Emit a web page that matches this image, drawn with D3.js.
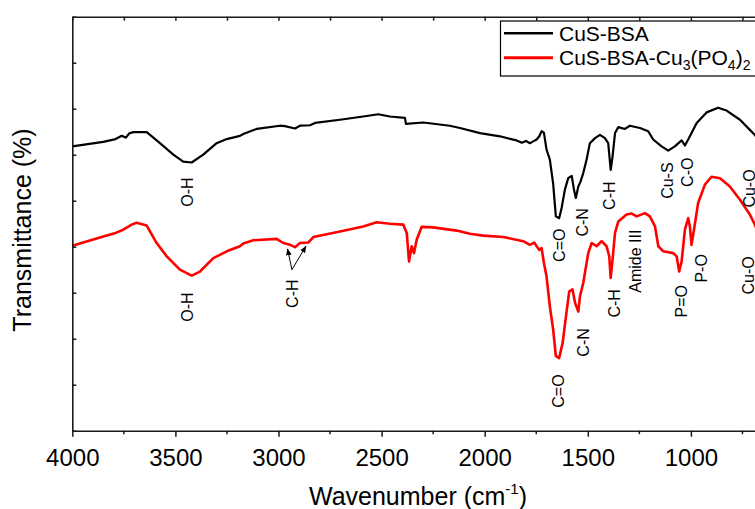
<!DOCTYPE html>
<html>
<head>
<meta charset="utf-8">
<script src="https://cdn.jsdelivr.net/npm/d3@7"></script>
<style>
html,body{margin:0;padding:0;background:#fff;overflow:hidden;}
svg{display:block;font-family:"Liberation Sans",Arial,Helvetica,sans-serif;}
</style>
</head>
<body>
<svg id="chart" width="755" height="509"></svg>
<script>
// ---- data (wavenumber cm^-1, transmittance in arbitrary offset units) ----
const seriesNames = ["CuS-BSA", "CuS-BSA-Cu3(PO4)2"];
const xTicks = [4000, 3500, 3000, 2500, 2000, 1500, 1000, 500];

const cusBsaWn = [4000,3850,3790,3760,3740,3725,3704,3639,3575,3510,3462,3421,3365,3300,3251,3187,3171,3106,2993,2969,2920,2896,2847,2823,2702,2589,2516,2460,2387,2382,2298,2169,2120,2023,1926,1845,1820,1800,1781,1765,1748,1735,1724,1713,1700,1684,1668,1655,1639,1627,1611,1595,1578,1567,1558,1546,1535,1522,1506,1490,1465,1441,1417,1401,1389,1380,1368,1352,1320,1296,1247,1207,1183,1142,1110,1078,1045,1029,1013,972,924,868,827,762,714,690,650];
const cusBsaT  = [61.8,62.8,63.4,64.1,63.7,64.6,64.9,64.9,62.5,60.0,58.5,58.3,60.0,62.5,63.4,64.1,64.5,65.6,66.3,66.2,65.7,66.3,66.4,66.9,67.6,68.3,68.8,68.3,68.0,66.7,67.0,66.3,65.8,64.7,64.0,63.1,62.6,63.0,62.5,62.9,63.3,64.0,65.1,64.8,61.1,58.9,53.7,46.6,46.2,48.4,52.4,54.9,55.4,52.4,50.6,53.1,54.2,56.0,58.9,62.5,63.6,64.3,63.6,62.5,56.7,59.6,64.7,66.0,65.6,66.3,65.8,65.1,63.3,61.8,60.9,61.8,63.1,62.0,63.3,66.9,69.2,70.2,69.6,67.6,65.4,64.3,62.0];

const cusBsaCpWn = [4000,3850,3790,3753,3712,3688,3639,3591,3542,3478,3421,3381,3316,3251,3187,3171,3122,3009,2977,2944,2920,2896,2856,2831,2702,2589,2524,2460,2395,2378,2367,2354,2343,2330,2306,2250,2136,2072,2007,1910,1813,1781,1760,1748,1735,1724,1713,1700,1684,1668,1655,1639,1622,1606,1590,1574,1562,1546,1538,1522,1498,1481,1457,1433,1409,1396,1389,1380,1368,1352,1312,1287,1263,1223,1199,1174,1158,1134,1086,1069,1057,1045,1029,1013,1005,997,985,965,932,900,859,811,762,714,690,650];
const cusBsaCpT  = [40.2,42.2,43.0,43.7,44.8,45.2,44.6,40.8,37.9,35.0,33.7,34.6,37.5,39.0,40.1,40.7,41.4,41.7,40.8,40.4,39.9,40.8,40.9,42.1,43.3,44.4,45.3,45.0,44.8,43.0,36.8,40.1,38.6,41.5,44.3,44.2,43.5,42.8,42.4,42.1,41.2,40.4,40.9,40.1,39.3,39.7,36.5,33.5,27.0,22.0,16.2,15.8,19.1,24.8,30.3,30.7,27.8,25.9,29.2,32.1,38.6,40.8,40.1,41.2,40.1,37.9,33.2,37.2,43.0,45.5,47.0,47.2,46.6,47.3,46.6,44.4,40.1,39.0,38.6,37.9,34.6,36.8,43.7,46.2,44.4,40.4,43.7,49.5,53.5,55.2,54.9,53.1,50.2,47.0,44.8,40.0];

// peak assignments: [label, wavenumber, transmittance at label start]
const blackLabels = [["O-H",3444,48.7],["C=O",1640,36.7],["C-N",1528,42.2],["C-H",1393,48.0],["Cu-S",1116,50.4],["C-O",1019,53.0],["Cu-O",714,48.5]];
const redLabels   = [["O-H",3444,23.7],["C-H",2935,26.7],["C=O",1645,5.0],["C-N",1523,16.1],["C-H",1373,24.6],["Amide III",1267,30.0],["P=O",1048,24.6],["P-O",947,32.2],["Cu-O",719,29.6]];
// arrows for the red C-H doublet: [fromWn, fromT, toWn, toT]
const chArrows = [[2935,35.0,2956,39.5],[2935,35.0,2867,40.1]];

(function () {
// ---- layout ----
const svg = d3.select("#chart");
const leftX = 72.3, topY = 16.7, bottomY = 430.7;
const x = d3.scaleLinear().domain([4000, 400]).range([leftX, leftX + 3600 * 0.2062]);
const y = d3.scaleLinear().domain([0, 90]).range([bottomY, topY]);
const axisColor = "#1a1a1a";

svg.append("defs").append("marker").attr("id","arr").attr("viewBox","0 0 10 10")
  .attr("refX",9).attr("refY",5).attr("markerWidth",7).attr("markerHeight",7).attr("orient","auto")
  .append("path").attr("d","M0,1 L10,5 L0,9 Z").attr("fill","#000");

// curves
const line = d3.line().x(d => x(d[0])).y(d => y(d[1]));
const blackData = cusBsaWn.map((w,i) => [w, cusBsaT[i]]);
const redData = cusBsaCpWn.map((w,i) => [w, cusBsaCpT[i]]);
svg.append("path").datum(blackData).attr("d", line).attr("fill","none").attr("stroke","#000").attr("stroke-width",2.2).attr("stroke-linejoin","round");
svg.append("path").datum(redData).attr("d", line).attr("fill","none").attr("stroke","#ff0000").attr("stroke-width",2.6).attr("stroke-linejoin","round");

// axes
const bottomAxis = d3.axisBottom(x).tickValues(xTicks).tickSizeInner(6).tickSizeOuter(0).tickPadding(12).tickFormat(d3.format("d"));
const gB = svg.append("g").attr("transform",`translate(0,${bottomY})`).call(bottomAxis);
gB.selectAll("text").attr("font-size",24).attr("fill","#000").attr("font-family","'Liberation Sans',Arial,sans-serif");
const minorX = d3.range(3750, 400, -500);
gB.selectAll(".minor").data(minorX).enter().append("line").attr("class","minor")
  .attr("x1",d=>x(d)).attr("x2",d=>x(d)).attr("y1",0).attr("y2",3.5).attr("stroke",axisColor).attr("stroke-width",1.5);

const topAxis = d3.axisTop(x).tickValues(d3.range(4000, 399, -250)).tickSizeInner(-4).tickSizeOuter(0).tickFormat("");
svg.append("g").attr("transform",`translate(0,${topY})`).call(topAxis);

const leftAxis = d3.axisLeft(y).tickValues(d3.range(0, 91, 10)).tickSizeInner(-4).tickSizeOuter(0).tickFormat("");
svg.append("g").attr("transform",`translate(${leftX},0)`).call(leftAxis);

svg.selectAll(".domain").attr("stroke",axisColor).attr("stroke-width",1.6);
svg.selectAll(".tick line").attr("stroke",axisColor).attr("stroke-width",1.5);

// axis titles
const xt = svg.append("text").attr("x",418).attr("y",505).attr("text-anchor","middle").attr("font-size",25).attr("fill","#000");
xt.append("tspan").text("Wavenumber (cm");
xt.append("tspan").attr("font-size",15).attr("dy",-11).text("-1");
xt.append("tspan").attr("dy",11).text(")");
svg.append("text").attr("transform","translate(31,230) rotate(-90)").attr("text-anchor","middle")
  .attr("font-size",25).attr("fill","#000").text("Transmittance (%)");

// peak labels
function addLabels(arr) {
  arr.forEach(([t, w, v]) => {
    svg.append("text").attr("transform",`translate(${x(w)},${y(v)}) rotate(-90)`)
      .attr("dy","0.35em").attr("font-size",16).attr("fill","#000").text(t);
  });
}
addLabels(blackLabels);
addLabels(redLabels);
chArrows.forEach(([w1,v1,w2,v2]) => {
  svg.append("line").attr("x1",x(w1)).attr("y1",y(v1)).attr("x2",x(w2)).attr("y2",y(v2))
    .attr("stroke","#000").attr("stroke-width",1).attr("marker-end","url(#arr)");
});

// legend
const lg = svg.append("g");
lg.append("rect").attr("x",500.5).attr("y",21).attr("width",300).attr("height",55).attr("fill","#fff").attr("stroke","#000").attr("stroke-width",1.2);
lg.append("line").attr("x1",504).attr("x2",553).attr("y1",33.3).attr("y2",33.3).attr("stroke","#000").attr("stroke-width",2.5);
lg.append("line").attr("x1",504).attr("x2",553).attr("y1",57.7).attr("y2",57.7).attr("stroke","#ff0000").attr("stroke-width",3);
lg.append("text").attr("x",559).attr("y",40.7).attr("font-size",21).attr("fill","#000").text(seriesNames[0]);
const t2 = lg.append("text").attr("x",559).attr("y",65).attr("font-size",21).attr("fill","#000");
t2.append("tspan").text("CuS-BSA-Cu");
t2.append("tspan").attr("font-size",14).attr("dy",5).text("3");
t2.append("tspan").attr("dy",-5).text("(PO");
t2.append("tspan").attr("font-size",14).attr("dy",5).text("4");
t2.append("tspan").attr("dy",-5).text(")");
t2.append("tspan").attr("font-size",14).attr("dy",5).text("2");
})();
</script>
</body>
</html>
